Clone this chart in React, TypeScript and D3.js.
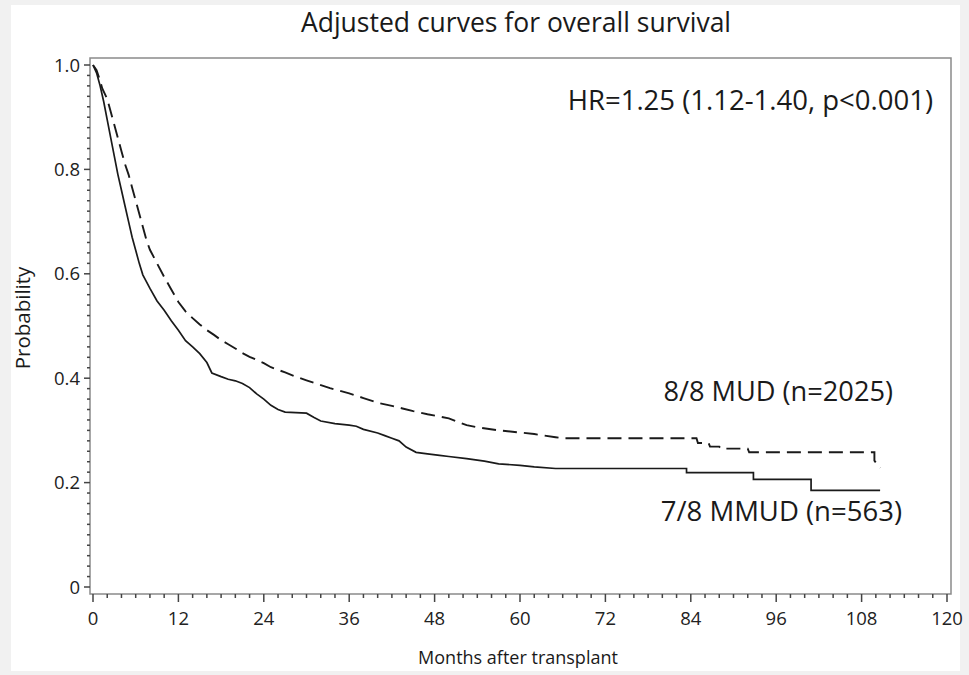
import React, { useEffect, useRef } from 'react';
import * as d3 from 'd3';

// Adjusted overall survival
// [months, probability] - repeated months mark a vertical step
const mudCurve: [number, number][] = [
  [0, 1.0], [0.5, 0.99], [1, 0.97], [1.3, 0.955], [2, 0.935], [2.5, 0.91], [3, 0.885],
  [3.5, 0.86], [4, 0.835], [4.5, 0.81], [5, 0.79], [5.5, 0.765], [6, 0.74], [6.5, 0.715],
  [7, 0.69], [7.5, 0.665], [8, 0.646], [9, 0.62], [10, 0.594], [11, 0.57], [12, 0.546],
  [13, 0.528], [14, 0.515], [15, 0.503], [16, 0.492], [17, 0.483], [18, 0.473], [19, 0.465],
  [20, 0.457], [21, 0.448], [22, 0.441], [24, 0.429], [25, 0.421], [27, 0.411], [28.5, 0.403],
  [30, 0.396], [31.5, 0.389], [33.3, 0.381], [36, 0.371], [38, 0.362], [40.3, 0.352],
  [42, 0.347], [43.5, 0.342], [45, 0.337], [47, 0.331], [48.5, 0.327], [50, 0.323],
  [52.5, 0.31], [54, 0.306], [57, 0.3], [60, 0.296], [62, 0.293], [65, 0.287], [66, 0.285],
  [84.8, 0.285], [85, 0.276], [86.5, 0.276], [86.7, 0.269], [88, 0.269], [88.2, 0.265],
  [92, 0.265], [92.2, 0.258], [109.8, 0.258], [109.8, 0.242], [110.6, 0.228],
];

const mmudCurve: [number, number][] = [
  [0, 1.0], [0.5, 0.985], [1, 0.96], [1.5, 0.93], [2, 0.895], [2.5, 0.86], [3, 0.825],
  [3.5, 0.79], [4, 0.76], [4.5, 0.73], [5, 0.7], [5.5, 0.67], [6, 0.645], [6.5, 0.62],
  [7, 0.598], [7.5, 0.585], [8, 0.572], [9, 0.548], [10, 0.53], [11, 0.51], [12, 0.492],
  [13, 0.472], [14, 0.46], [15, 0.447], [16, 0.43], [16.7, 0.41], [18, 0.403], [19, 0.398],
  [20, 0.395], [21, 0.39], [22, 0.382], [23, 0.37], [24, 0.36], [25, 0.348], [26, 0.34],
  [27, 0.335], [30, 0.333], [31, 0.325], [32, 0.318], [34, 0.313], [36, 0.31], [37, 0.308],
  [38, 0.302], [40, 0.295], [41, 0.29], [42, 0.285], [43, 0.28], [44, 0.268], [45.4, 0.258],
  [47, 0.255], [48.7, 0.252], [50, 0.25], [52.5, 0.246], [55, 0.241], [57, 0.236],
  [60, 0.233], [62, 0.23], [65, 0.227], [83.4, 0.227], [83.4, 0.219], [92.8, 0.219],
  [92.8, 0.206], [100.9, 0.206], [100.9, 0.185], [110.6, 0.185],
];

const xTicks = [0, 12, 24, 36, 48, 60, 72, 84, 96, 108, 120];
const yTicks = [0, 0.2, 0.4, 0.6, 0.8, 1.0];

const titleText = 'Adjusted curves for overall survival';
const hrText = 'HR=1.25 (1.12-1.40, p<0.001)';
const mudLabel = '8/8 MUD (n=2025)';
const mmudLabel = '7/8 MMUD (n=563)';
const xLabel = 'Months after transplant';
const yLabel = 'Probability';

const W = 969;
const H = 675;
const FONT = '"Open Sans", sans-serif';

export default function App() {
  const svgRef = useRef<SVGSVGElement | null>(null);

  useEffect(() => {
    if (!svgRef.current) return;
    const svg = d3.select(svgRef.current);
    svg.selectAll('*').remove();

    // outer grey matte + white panel
    svg.append('rect').attr('width', W).attr('height', H).attr('fill', '#f1f1f1');
    svg.append('rect')
      .attr('x', 11).attr('y', 5).attr('width', 949).attr('height', 666)
      .attr('fill', '#fff');

    const frame = { left: 90, right: 951, top: 58, bottom: 594 };
    const x = d3.scaleLinear().domain([0, 120]).range([93, 947]);
    const y = d3.scaleLinear().domain([0, 1]).range([587, 65]);

    // plot frame
    svg.append('rect')
      .attr('x', frame.left).attr('y', frame.top)
      .attr('width', frame.right - frame.left).attr('height', frame.bottom - frame.top)
      .attr('fill', 'none').attr('stroke', '#8a8a8a').attr('stroke-width', 1.5);

    // x axis ticks (minor every 2 months)
    const xAxis = svg.append('g').attr('stroke', '#444').attr('stroke-width', 1.5);
    d3.range(0, 121, 2).forEach(m => {
      const major = m % 12 === 0;
      xAxis.append('line')
        .attr('x1', x(m)).attr('x2', x(m))
        .attr('y1', frame.bottom).attr('y2', frame.bottom + (major ? 8 : 4));
    });
    svg.append('g').selectAll('text').data(xTicks).join('text')
      .attr('x', d => x(d)).attr('y', 625)
      .attr('text-anchor', 'middle')
      .attr('font-family', FONT).attr('font-size', 18.5).attr('fill', '#222')
      .text(d => d);

    // y axis ticks (minor every 0.02)
    const yAxis = svg.append('g').attr('stroke', '#444').attr('stroke-width', 1.5);
    d3.range(0, 51).forEach(i => {
      const v = i / 50;
      const major = i % 10 === 0;
      yAxis.append('line')
        .attr('x1', frame.left).attr('x2', frame.left - (major ? 6 : 3))
        .attr('y1', y(v)).attr('y2', y(v));
    });
    svg.append('g').selectAll('text').data(yTicks).join('text')
      .attr('x', 80).attr('y', d => y(d))
      .attr('dy', '0.36em')
      .attr('text-anchor', 'end')
      .attr('font-family', FONT).attr('font-size', 18.5).attr('fill', '#222')
      .text(d => (d === 0 ? '0' : d.toFixed(1)));

    // survival curves
    const line = d3.line<[number, number]>()
      .x(d => x(d[0]))
      .y(d => y(d[1]));

    svg.append('path')
      .datum(mudCurve)
      .attr('d', line)
      .attr('fill', 'none')
      .attr('stroke', '#1a1a1a')
      .attr('stroke-width', 1.9)
      .attr('stroke-dasharray', '14 7');

    svg.append('path')
      .datum(mmudCurve)
      .attr('d', line)
      .attr('fill', 'none')
      .attr('stroke', '#1a1a1a')
      .attr('stroke-width', 1.7);

    // texts
    const txt = (s: string, tx: number, ty: number, size: number, anchor: string) =>
      svg.append('text')
        .attr('x', tx).attr('y', ty)
        .attr('text-anchor', anchor)
        .attr('font-family', FONT).attr('font-size', size).attr('fill', '#1a1a1a')
        .text(s);

    txt(titleText, 516, 32, 26.5, 'middle');
    txt(hrText, 933, 110, 27.5, 'end');
    txt(mudLabel, 893, 401, 27.2, 'end');
    txt(mmudLabel, 902, 521, 27.5, 'end');
    txt(xLabel, 518, 664, 18, 'middle');

    svg.append('text')
      .attr('transform', 'translate(30,318) rotate(-90)')
      .attr('text-anchor', 'middle')
      .attr('font-family', FONT).attr('font-size', 20.5).attr('fill', '#1a1a1a')
      .text(yLabel);
  }, []);

  return (
    <div style={{ position: 'absolute', left: 0, top: 0 }}>
      <svg ref={svgRef} width={W} height={H} style={{ display: 'block' }} />
    </div>
  );
}
